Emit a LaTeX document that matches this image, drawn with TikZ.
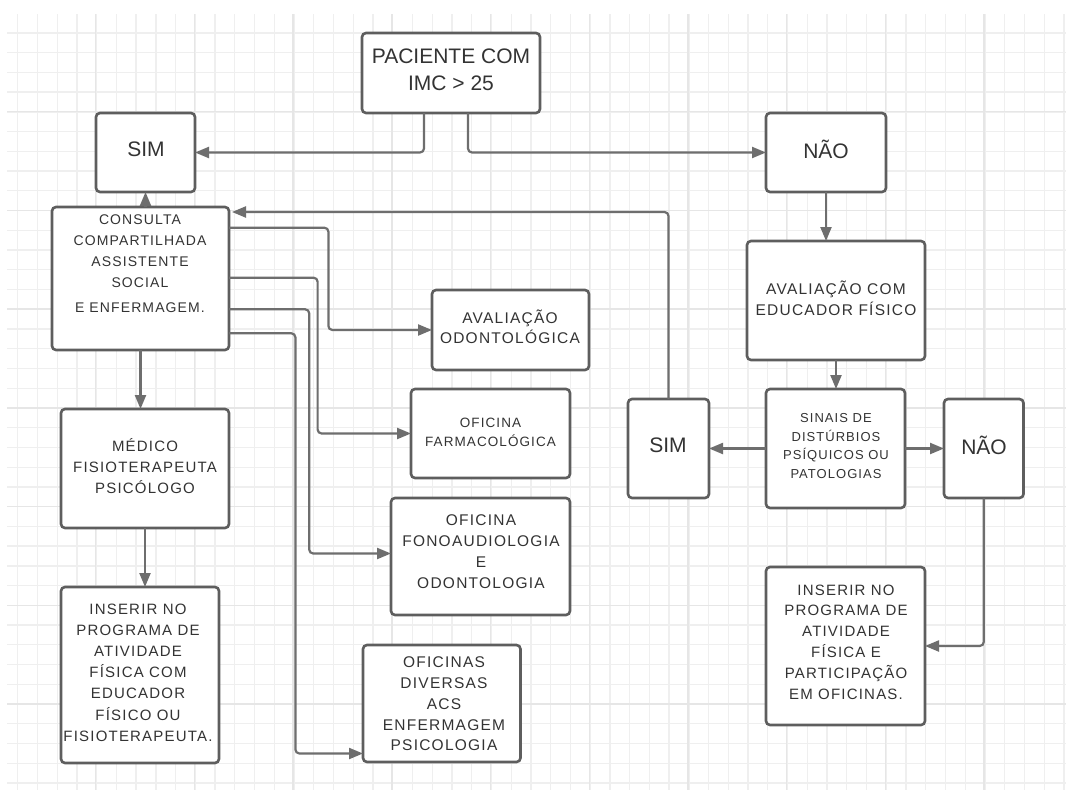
\documentclass[tikz,border=0pt]{standalone}
\usepackage{fontspec}
\setmainfont{Liberation Sans}
\newfontfamily\lsp[LetterSpace=8]{Liberation Sans}
\usetikzlibrary{arrows.meta,calc}
\definecolor{gridminor}{HTML}{EFEFEF}
\definecolor{gridmajor}{HTML}{E6E6E6}
\definecolor{boxline}{HTML}{5E5E5E}
\definecolor{arrline}{HTML}{6E6E6E}
\definecolor{txtc}{HTML}{333333}
\newcommand\fsz[2]{\fontsize{#1}{#2}\selectfont}
\begin{document}
\begin{tikzpicture}[x=1pt,y=-1pt,
  box/.style={draw=boxline, line width=2.6pt, rounded corners=4pt, fill=white,
    inner sep=0pt, outer sep=0pt, anchor=north west},
  arr/.style={draw=arrline, line width=2.2pt, rounded corners=4pt,
    -{Triangle[length=14pt,width=11pt]}},
  big/.style={text=txtc, font=\fsz{21}{27}, align=center, inner sep=0pt},
  sm/.style={text=txtc, align=center, inner sep=0pt},
  gmin/.style={draw=gridminor, line width=1.3pt},
  gmaj/.style={draw=gridmajor, line width=1.4pt}
]
\useasboundingbox (0,0) rectangle (1066,790);
\fill[white] (0,0) rectangle (1066,790);
% grid
\foreach \i in {0,...,53}{
  \pgfmathsetmacro\gx{17.7+19.74*\i}
  \draw[gmin] (\gx,14) -- (\gx,790);
}
\foreach \j in {0,...,48}{
  \pgfmathsetmacro\gy{32.9+19.74*\j}
  \draw[gmin] (7,\gy) -- (1066,\gy);
}
\foreach \m in {0,...,9}{
  \pgfmathsetmacro\gx{95.7+98.7*\m}
  \draw[gmaj] (\gx,14) -- (\gx,790);
}
\foreach \m in {0,...,6}{
  \pgfmathsetmacro\gy{111.7+98.7*\m}
  \draw[gmaj] (7,\gy) -- (1066,\gy);
}
% boxes
\node[box, minimum width=178pt, minimum height=80pt] (pac) at (362,33) {};
\node[box, minimum width=99pt, minimum height=79pt] (simA) at (96,113) {};
\node[box, minimum width=120pt, minimum height=79pt] (naoA) at (766,113) {};
\node[box, minimum width=177pt, minimum height=143pt] (cons) at (52,207) {};
\node[box, minimum width=157pt, minimum height=80pt] (odo) at (432,290) {};
\node[box, minimum width=159pt, minimum height=89pt] (farm) at (411,389) {};
\node[box, minimum width=179pt, minimum height=117pt] (fono) at (391,498) {};
\node[box, minimum width=157.5pt, minimum height=117pt] (div) at (363,645) {};
\node[box, minimum width=168pt, minimum height=119pt] (med) at (61,409) {};
\node[box, minimum width=158pt, minimum height=176pt] (insL) at (61,587) {};
\node[box, minimum width=178pt, minimum height=119pt] (avc) at (747,241) {};
\node[box, minimum width=81pt, minimum height=99pt] (simB) at (628,399) {};
\node[box, minimum width=139pt, minimum height=119pt] (sin) at (766,389) {};
\node[box, minimum width=79.5pt, minimum height=99pt] (naoB) at (944,399) {};
\node[box, minimum width=159pt, minimum height=158pt] (insR) at (766,567) {};
% texts
\node[big] (pacT) at (451,69.5) {PACIENTE COM\\IMC > 25};
\node[big] (simAT) at (146,149) {SIM};
\node[big] (naoAT) at (826,149) {NÃO};
\node[sm, font={\lsp\fsz{14}{21}}] (consT) at (140,264) {CONSULTA\\COMPARTILHADA\\ASSISTENTE\\SOCIAL\\[4pt]E ENFERMAGEM.};
\node[sm, font={\lsp\fsz{15.5}{20}}] (odoT) at (510,326.7) {AVALIAÇÃO\\ODONTOLÓGICA};
\node[sm, font={\lsp\fsz{13.5}{19.6}}] (farmT) at (490.5,432.5) {OFICINA\\FARMACOLÓGICA};
\node[sm, font={\lsp\fsz{15.5}{21}}] (fonoT) at (481,552) {OFICINA\\FONOAUDIOLOGIA\\E\\ODONTOLOGIA};
\node[sm, font={\lsp\fsz{15.5}{20.75}}] (divT) at (444,704) {OFICINAS\\DIVERSAS\\ACS\\ENFERMAGEM\\PSICOLOGIA};
\node[sm, font={\lsp\fsz{15}{21}}] (medT) at (145,466) {MÉDICO\\FISIOTERAPEUTA\\PSICÓLOGO};
\node[sm, font={\lsp\fsz{15}{21.1}}] (insLT) at (138,672.7) {INSERIR NO\\PROGRAMA DE\\ATIVIDADE\\FÍSICA COM\\EDUCADOR\\FÍSICO OU\\FISIOTERAPEUTA.};
\node[sm, font={\lsp\fsz{15.5}{21}}] (avcT) at (836,297.8) {AVALIAÇÃO COM\\EDUCADOR FÍSICO};
\node[big] (simBT) at (668,445) {SIM};
\node[sm, font={\lsp\fsz{13}{18.5}}] (sinT) at (836,446) {SINAIS DE\\DISTÚRBIOS\\PSÍQUICOS OU\\PATOLOGIAS};
\node[big] (naoBT) at (984,445) {NÃO};
\node[sm, font={\lsp\fsz{15}{20.8}}] (insRT) at (846,642) {INSERIR NO\\PROGRAMA DE\\ATIVIDADE\\FÍSICA E\\PARTICIPAÇÃO\\EM OFICINAS.};
% connectors
\draw[arr] ([xshift=-27pt]pac.south) |- (simA.east);
\draw[arr] ([xshift=17pt]pac.south) |- (naoA.west);
\draw[arr] (simA.south |- cons.north) -- (simA.south);
\draw[arr] (naoA.south) -- (naoA.south |- avc.north);
\draw[arr] (avc.south) -- (avc.south |- sin.north);
\draw[arr] (sin.west) -- (simB.east);
\draw[arr] (sin.east) -- (naoB.west);
\draw[arr] (simB.north) |- ([xshift=3pt,yshift=-5pt]cons.north east);
\draw[arr] ([yshift=-20.7pt]cons.north east) -| ([xshift=-103.6pt]odo.west) -- (odo.west);
\draw[arr] ([yshift=-70.7pt]cons.north east) -| ([xshift=-93.4pt]farm.west) -- (farm.west);
\draw[arr] ([yshift=-102.3pt]cons.north east) -| ([xshift=-81.8pt,yshift=3pt]fono.west) -- ([yshift=3pt]fono.west);
\draw[arr] ([yshift=-126.3pt]cons.north east) -| ([xshift=-67.6pt,yshift=-50pt]div.west) -- ([yshift=-50pt]div.west);
\draw[arr] (cons.south) -- (cons.south |- med.north);
\draw[arr] (med.south) -- (med.south |- insL.north);
\draw[arr] (naoB.south) |- (insR.east);
\end{tikzpicture}
\end{document}
